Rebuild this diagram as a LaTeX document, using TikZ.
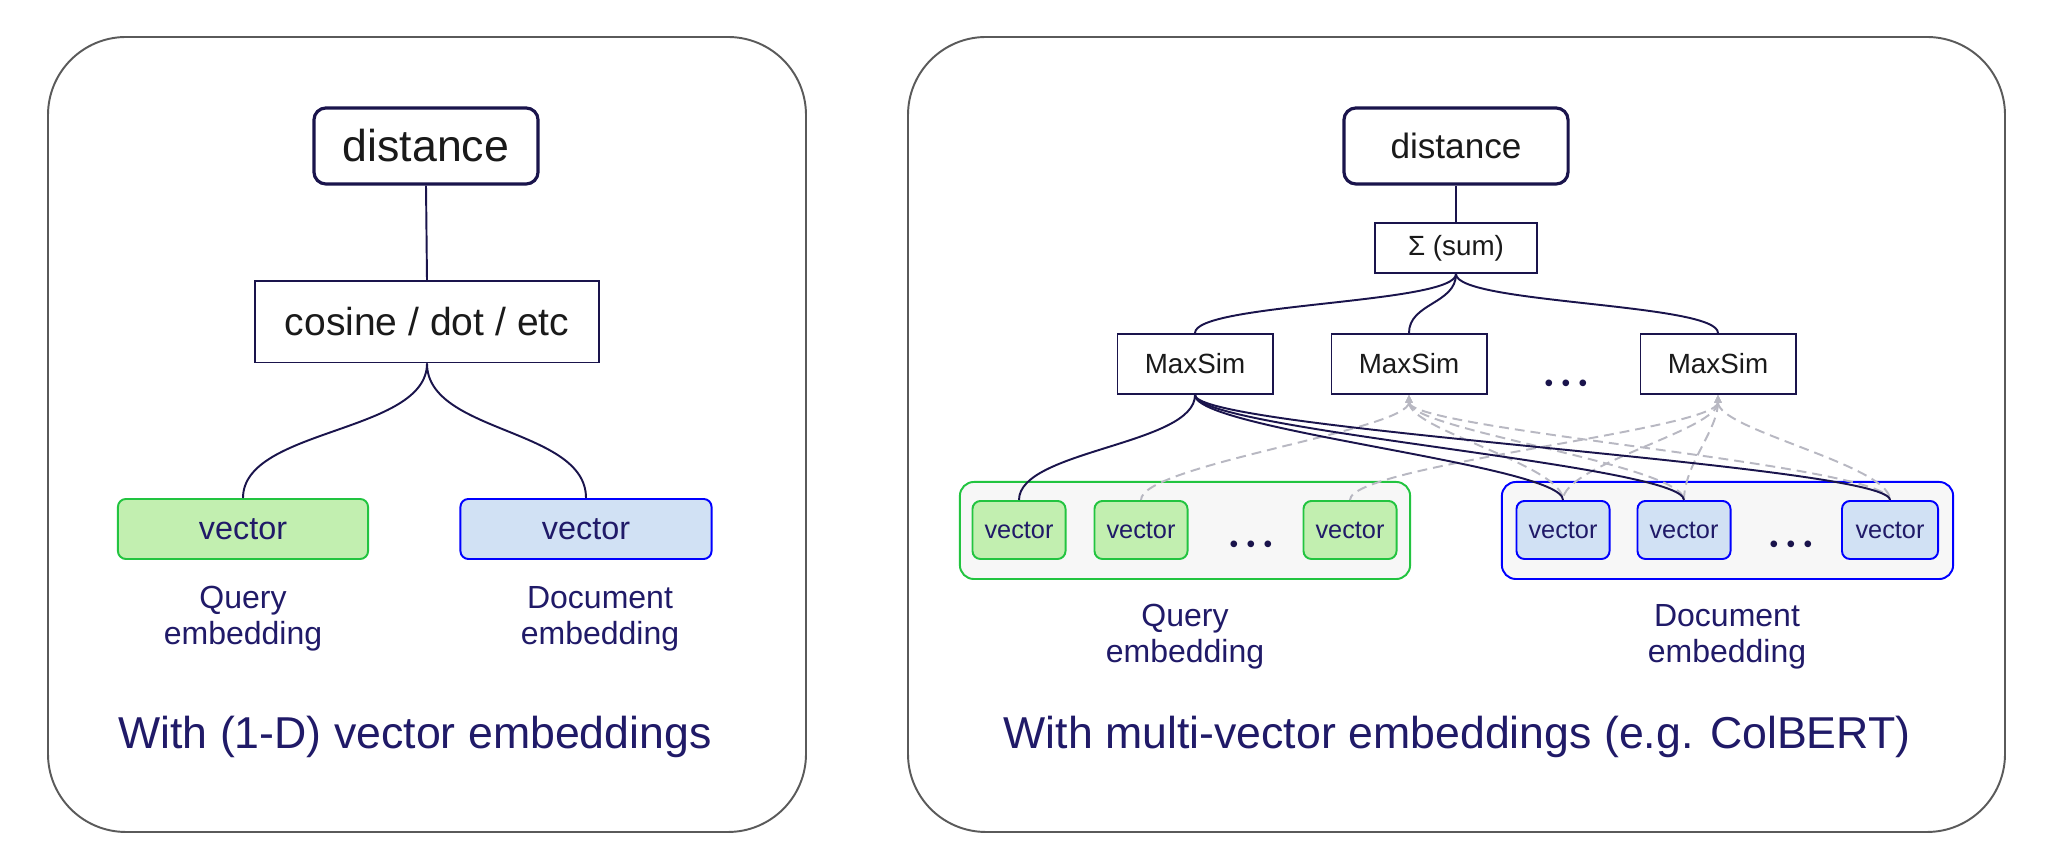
\documentclass[tikz,border=0pt]{standalone}
\usepackage{fontspec}
\setmainfont{Liberation Sans}
\usetikzlibrary{arrows.meta}
\definecolor{navy}{RGB}{26,20,76}
\definecolor{txtnavy}{RGB}{32,26,104}
\definecolor{ink}{RGB}{26,26,26}
\definecolor{frame}{RGB}{90,90,90}
\definecolor{gfill}{RGB}{194,239,176}
\definecolor{gline}{RGB}{34,196,64}
\definecolor{bfill}{RGB}{209,225,244}
\definecolor{bline}{RGB}{0,0,255}
\definecolor{grpfill}{RGB}{247,247,247}
\definecolor{dashgray}{RGB}{184,184,194}
\begin{document}
\begin{tikzpicture}[x=0.01cm,y=-0.01cm,
 panel/.style={draw=frame,line width=0.55pt,rounded corners=0.78cm},
 bigbox/.style={draw=navy,line width=0.9pt,rounded corners=0.12cm,fill=white,text=ink,inner sep=0pt,minimum width=2.24cm,minimum height=0.76cm},
 plainbox/.style={draw=navy,line width=0.55pt,fill=white,text=ink,inner sep=0pt},
 qvec/.style={draw=gline,fill=gfill,line width=0.55pt,rounded corners=0.08cm,text=txtnavy,inner sep=0pt},
 dvec/.style={draw=bline,fill=bfill,line width=0.55pt,rounded corners=0.08cm,text=txtnavy,inner sep=0pt},
 qgrp/.style={draw=gline,fill=grpfill,line width=0.55pt,rounded corners=0.14cm,inner sep=0pt},
 dgrp/.style={draw=bline,fill=grpfill,line width=0.55pt,rounded corners=0.14cm,inner sep=0pt},
 smallvec/.style={minimum width=0.93cm,minimum height=0.58cm,font=\fontsize{7.2}{9}\selectfont},
 msbox/.style={plainbox,minimum width=1.55cm,minimum height=0.6cm,font=\fontsize{7.9}{9}\selectfont},
 lbl/.style={text=txtnavy,align=center,font=\fontsize{9.1}{10.2}\selectfont},
 ttl/.style={text=txtnavy,font=\fontsize{12.7}{15}\selectfont},
 dotsnode/.style={text=navy,font=\fontsize{7}{8}\selectfont,inner sep=0pt},
 link/.style={draw=navy,line width=0.55pt},
 dlink/.style={draw=dashgray,line width=0.55pt,dash pattern=on 2.8pt off 1.7pt,{Triangle[length=2.2pt,width=2pt]}-}
]
\useasboundingbox (0,0) rectangle (2048,868);
\fill[white] (0,0) rectangle (2048,868);

% ---------- left panel ----------
\draw[panel] (48,37) rectangle (806,832);
\node[bigbox,font=\fontsize{12.7}{15}\selectfont] (distL) at (426,146) {distance};
\node[plainbox,minimum width=3.44cm,minimum height=0.81cm,font=\fontsize{11.1}{13}\selectfont] (cosL) at (427,322) {cosine / dot / etc};
\node[qvec,minimum width=2.5cm,minimum height=0.6cm,font=\fontsize{9.2}{11}\selectfont] (vqL) at (243,529) {vector};
\node[dvec,minimum width=2.51cm,minimum height=0.6cm,font=\fontsize{9.2}{11}\selectfont] (vdL) at (586,529) {vector};
\node[lbl] (lqL) at (243,619) {Query\\embedding};
\node[lbl] (ldL) at (600,619) {Document\\embedding};
\node[ttl] (tL) at (415,737) {With (1-D) vector embeddings};

\draw[link] (distL.south) -- (cosL.north);
\draw[link] (cosL.south) .. controls +(0,70) and +(0,-70) .. (vqL.north);
\draw[link] (cosL.south) .. controls +(0,70) and +(0,-70) .. (vdL.north);

% ---------- right panel ----------
\draw[panel] (908,37) rectangle (2005,832);
\node[bigbox,font=\fontsize{10}{12}\selectfont] (distR) at (1456,146) {distance};
\node[plainbox,minimum width=1.62cm,minimum height=0.5cm,font=\fontsize{7.9}{9}\selectfont] (sumR) at (1456,248) {Σ (sum)};
\node[msbox] (ms1) at (1195,364) {MaxSim};
\node[msbox] (ms2) at (1409,364) {MaxSim};
\node[msbox] (ms3) at (1718,364) {MaxSim};
\node[dotsnode] (msdots) at (1566,386) {•\hspace{2.4pt}•\hspace{2.4pt}•};

\node[qgrp,minimum width=4.5cm,minimum height=0.97cm] (gq) at (1185,530.5) {};
\node[dgrp,minimum width=4.51cm,minimum height=0.97cm] (gd) at (1727.5,530.5) {};

\node[qvec,smallvec] (q1) at (1019,530) {vector};
\node[qvec,smallvec] (q2) at (1141,530) {vector};
\node[qvec,smallvec] (q3) at (1350,530) {vector};
\node[dotsnode] (qdots) at (1251,547) {•\hspace{2.4pt}•\hspace{2.4pt}•};
\node[dvec,smallvec] (d1) at (1563,530) {vector};
\node[dvec,smallvec] (d2) at (1684,530) {vector};
\node[dvec,smallvec,minimum width=0.96cm] (d3) at (1890,530) {vector};
\node[dotsnode] (ddots) at (1791,547) {•\hspace{2.4pt}•\hspace{2.4pt}•};

\node[lbl] (lqR) at (1185,637) {Query\\embedding};
\node[lbl] (ldR) at (1727,637) {Document\\embedding};
\node[ttl] (tR) at (1457,737) {With multi-vector embeddings (e.g. ColBERT)};

\draw[link] (distR.south) -- (sumR.north);
\foreach \m in {ms1,ms2,ms3}
  \draw[link] (sumR.south) .. controls +(0,30) and +(0,-30) .. (\m.north);

% dashed links
\foreach \v in {q2,d1,d2,d3}
  \draw[dlink] (ms2.south) .. controls +(0,35) and +(0,-35) .. (\v.north);
\foreach \v in {q3,d1,d2,d3}
  \draw[dlink] (ms3.south) .. controls +(0,35) and +(0,-35) .. (\v.north);

% solid links
\draw[link] (ms1.south) .. controls +(0,50) and +(0,-50) .. (q1.north);
\foreach \v in {d1,d2,d3}
  \draw[link] (ms1.south) .. controls +(0,35) and +(0,-35) .. (\v.north);
\end{tikzpicture}
\end{document}
